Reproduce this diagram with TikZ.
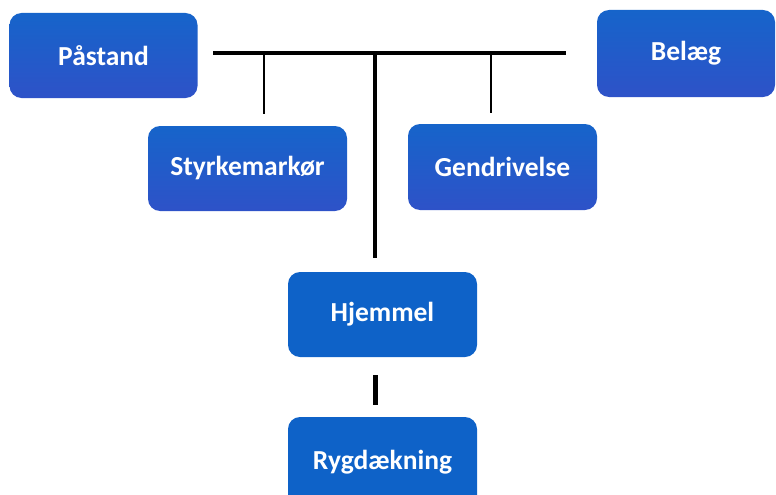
\documentclass[tikz,border=0pt]{standalone}
\usepackage{fontspec}
\setmainfont{Carlito}
\definecolor{topblue}{RGB}{22,100,202}
\definecolor{botblue}{RGB}{46,82,200}
\definecolor{flatblue}{RGB}{14,98,200}
\begin{document}
\begin{tikzpicture}[x=1pt,y=-1pt,
  box/.style={rounded corners=12pt, minimum width=188pt, minimum height=85pt,
    inner sep=0pt, text=white, font=\fontsize{27.5}{32}\selectfont\bfseries},
  gbox/.style={box, top color=topblue, bottom color=botblue},
  fbox/.style={box, fill=flatblue},
  thick bar/.style={line width=4pt, black},
  thin bar/.style={line width=2.5pt, black}]
\useasboundingbox (0,0) rectangle (776,495);
\clip (0,0) rectangle (776,495);
\node[gbox] (pastand) at (103.5,55.5) {Påstand};
\node[gbox, minimum width=178pt, minimum height=87pt] (belaeg) at (686,53.5) {Belæg};
\node[gbox, minimum width=199pt] (styrke) at (247.5,168.5) {Styrkemarkør};
\node[gbox, minimum width=189pt, minimum height=86pt] (gendriv) at (502.5,167) {Gendrivelse};
\node[fbox, minimum width=189pt] (hjemmel) at (382.5,314.5) {Hjemmel};
\node[fbox, minimum width=189pt, minimum height=90pt] (ryg) at (382.5,462) {Rygdækning};
\coordinate (bl) at (213,53);
\coordinate (br) at (566,53);
\coordinate (jl) at (264,53);
\coordinate (jm) at (375,53);
\coordinate (jr) at (491,53);
\coordinate (el) at (264,114);
\coordinate (em) at (375,258);
\coordinate (er) at (491,113);
\coordinate (s1) at (375,375);
\coordinate (s2) at (375,405);
\draw[thick bar] (bl) -- (br);
\draw[thin bar] (jl) -- (el);
\draw[thin bar] (jr) -- (er);
\draw[thick bar] (jm) -- (em);
\draw[line width=5pt] (s1) -- (s2);
\end{tikzpicture}
\end{document}
